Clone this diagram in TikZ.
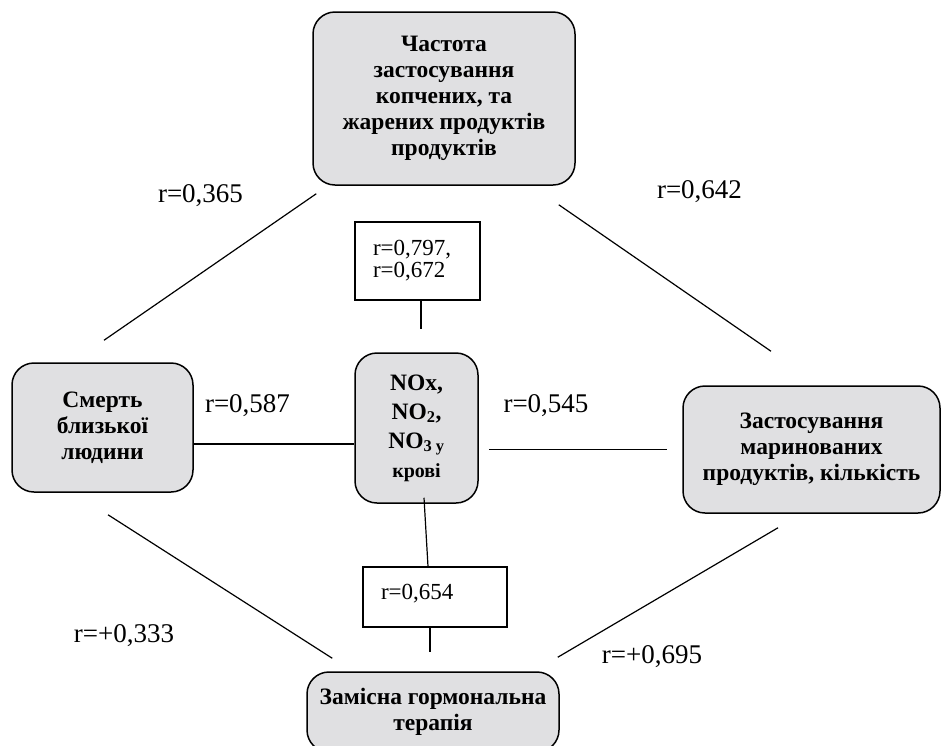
\documentclass[tikz,border=0pt]{standalone}
\usepackage{fontspec}
\setmainfont{Liberation Serif}
\definecolor{boxgray}{RGB}{224,224,226}

\begin{document}
\begin{tikzpicture}[x=1pt, y=-1pt]
\tikzstyle{factor} = [rectangle, rounded corners=22pt, draw=black, line width=1.5pt, fill=boxgray, align=center, font=\fontsize{23.5}{26}\selectfont\bfseries]
\tikzstyle{coef} = [rectangle, draw=black, line width=1.2pt, fill=white, align=left, inner xsep=18pt, font=\fontsize{23}{22}\selectfont]
\tikzstyle{rlabel} = [anchor=base, font=\fontsize{27}{30}\selectfont]
\tikzstyle{link} = [line width=1.2pt]

\useasboundingbox (0,0) rectangle (945,745);

\node (freq) [factor, minimum width=262pt, minimum height=173pt] at (444,98.5) {Частота\\застосування\\копчених, та\\жарених продуктів\\продуктів};
\node (coefa) [coef, minimum height=78pt, text width=89pt] at (417.5,261) {r=0,797,\\r=0,672};
\node (nox) [factor, minimum width=123pt, minimum height=150pt, font=\fontsize{23.5}{29}\selectfont\bfseries] at (416.5,428) {NOx,\\NO\textsubscript{2},\\NO\textsubscript{3 у}\\{\fontsize{20}{29}\selectfont крові}};
\node (death) [factor, minimum width=181pt, minimum height=129pt] at (102.5,427.5) {Смерть\\близької\\людини};
\node (marin) [factor, minimum width=257pt, minimum height=127pt] at (811.5,449.5) {Застосування\\маринованих\\продуктів, кількість};
\node (coefb) [coef, minimum height=60pt, text width=108pt, text height=16pt, text depth=12pt] at (435,597) {r=0,654};
\node (hrt) [factor, minimum width=252pt, minimum height=80pt] at (433,712) {Замісна гормональна\\терапія};

% correlation labels
\node (r365) [rlabel] at (200.5,202) {r=0,365};
\node (r642) [rlabel] at (699.5,198) {r=0,642};
\node (r587) [rlabel] at (247.5,412) {r=0,587};
\node (r545) [rlabel] at (546,412) {r=0,545};
\node (r333) [rlabel] at (124,642) {r=+0,333};
\node (r695) [rlabel] at (652,663) {r=+0,695};

\draw [link] ([shift={(4,8)}]freq.south west) -- ([shift={(1.5,-22)}]death.north);
\draw [link] ([shift={(-17,19)}]freq.south east) -- ([shift={(-40.5,-34)}]marin.north);
\draw [link, shorten >=23pt] ([xshift=3.5pt]coefa.south) -- ([xshift=3.5pt]coefa.south |- nox.north);
\draw [link] ([yshift=-16.5pt]death.east) -- ([yshift=-16.5pt]death.east -| nox.west);
\draw [link, shorten <=10pt, shorten >=15pt] (nox.east |- marin.west) -- (marin.west);
\draw [link] ([shift={(7.5,-6)}]nox.south) -- ([xshift=-7pt]coefb.north);
\draw [link, shorten >=19pt] ([xshift=-5pt]coefb.south) -- ([xshift=-5pt]coefb.south |- hrt.north);
\draw [link] ([shift={(5.5,22)}]death.south) -- ([shift={(26,-13)}]hrt.north west);
\draw [link] ([shift={(-2,-14)}]hrt.north east) -- ([shift={(-33.5,14)}]marin.south);
\end{tikzpicture}
\end{document}
